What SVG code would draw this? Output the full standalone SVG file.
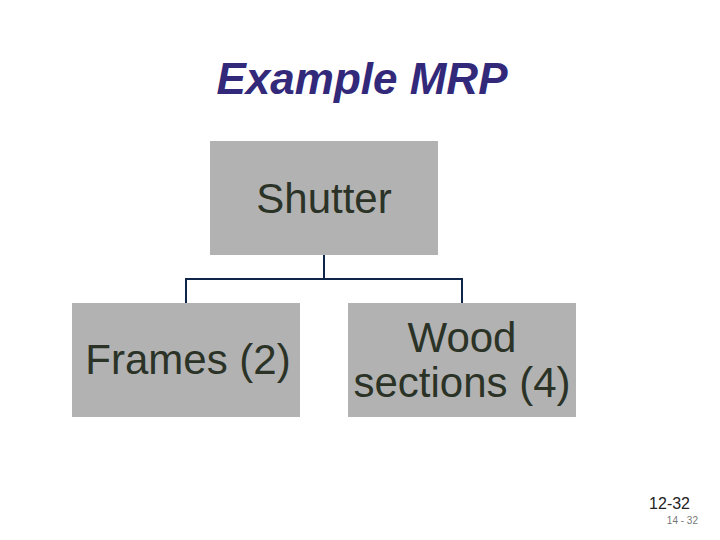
<svg xmlns="http://www.w3.org/2000/svg" width="720" height="540" viewBox="0 0 720 540">
<style>
.box{fill:#b2b2b2}
.lbl{font-family:"Liberation Sans",Arial,sans-serif;font-size:42px;fill:#2b3327;text-anchor:middle}
.conn{fill:none;stroke:#10254a;stroke-width:2}
</style>
<rect width="720" height="540" fill="#ffffff"/>
<text x="362" y="94" font-family="Liberation Sans,Arial,sans-serif" font-size="44" font-weight="bold" font-style="italic" fill="#33297a" text-anchor="middle">Example MRP</text>
<g id="connectors">
<path class="conn" d="M324,255 V279 M186,303 V279 H462 V303"/>
</g>
<g id="shutter">
<rect class="box" x="210" y="141" width="228" height="114"/>
<text class="lbl" x="324" y="213" font-size="40">Shutter</text>
</g>
<g id="frames">
<rect class="box" x="72" y="303" width="228" height="114"/>
<text class="lbl" x="188" y="374">Frames (2)</text>
</g>
<g id="wood">
<rect class="box" x="348" y="303" width="228" height="114"/>
<text class="lbl" x="462" y="352">Wood</text>
<text class="lbl" x="462" y="397">sections (4)</text>
</g>
<text x="690" y="509" font-family="Liberation Sans,Arial,sans-serif" font-size="16" fill="#222222" text-anchor="end">12-32</text>
<text x="698" y="524" font-family="Liberation Sans,Arial,sans-serif" font-size="10" fill="#777777" text-anchor="end">14 - 32</text>
</svg>
